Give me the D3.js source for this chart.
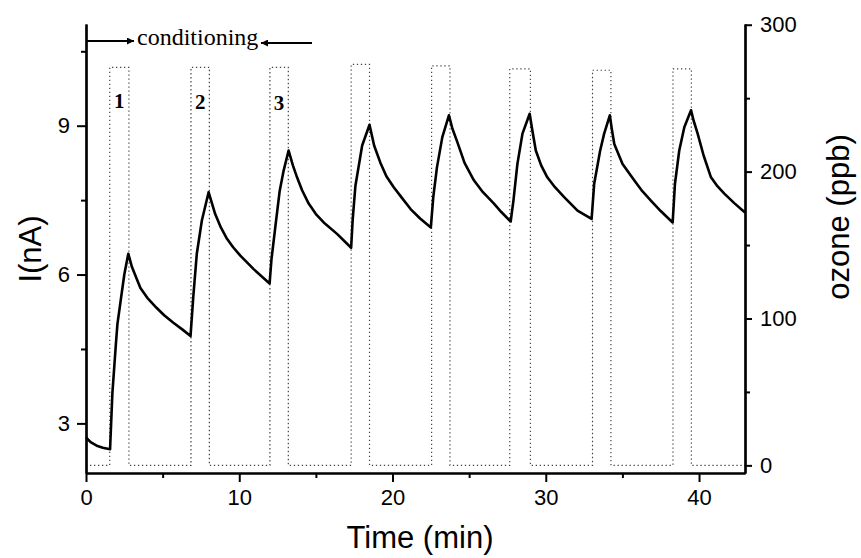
<!DOCTYPE html>
<html>
<head>
<meta charset="utf-8">
<script src="https://cdn.jsdelivr.net/npm/d3@7"></script>
<style>
  body { margin: 0; background: #fff; }
</style>
</head>
<body>
<div id="chart"></div>
<script>
// Current trace (time in min, current in nA)
const timeMin = [
  0, 0.3, 0.7, 1.1, 1.57, 1.72, 1.95, 2.05, 2.26, 2.5, 2.76,
  3.0, 3.3, 3.55, 4.0, 4.6, 5.1, 5.7, 6.3, 6.82,
  7.0, 7.23, 7.56, 8.0,
  8.43, 8.8, 9.2, 9.6, 10.07, 10.94, 11.98,
  12.1, 12.35, 12.64, 12.9, 13.22,
  13.5, 13.77, 14.1, 14.53, 15.0, 15.51, 16.38, 17.3,
  17.4, 17.58, 18.02, 18.5,
  18.8, 19.2, 19.6, 20.08, 20.6, 21.18, 21.8, 22.5,
  22.66, 22.9, 23.25, 23.68,
  23.9, 24.23, 24.7, 25.31, 25.9, 26.62, 27.1, 27.71,
  27.89, 28.15, 28.48, 28.95,
  29.1, 29.35, 29.7, 30.1, 30.6, 31.2, 32.07, 32.99,
  33.16, 33.55, 33.81, 34.18,
  34.3, 34.47, 35.01, 35.77, 36.3, 36.86, 37.5, 38.28,
  38.43, 38.71, 39.04, 39.48,
  39.65, 39.91, 40.3, 40.78, 41.2, 41.65, 42.3, 43.0
];
const currentNA = [
  2.72, 2.62, 2.55, 2.51, 2.48, 3.6, 4.6, 5.0, 5.47, 6.0, 6.42,
  6.15, 5.92, 5.73, 5.53, 5.33, 5.18, 5.03, 4.89, 4.76,
  5.55, 6.42, 7.09, 7.66,
  7.22, 6.95, 6.72, 6.55, 6.38, 6.11, 5.82,
  6.3, 6.95, 7.69, 8.1, 8.5,
  8.2, 7.96, 7.7, 7.43, 7.22, 7.05, 6.82, 6.54,
  7.1, 7.79, 8.6, 9.02,
  8.6, 8.26, 7.98, 7.76, 7.55, 7.32, 7.13, 6.95,
  7.56, 8.16, 8.77, 9.21,
  8.95, 8.67, 8.25, 7.9, 7.66, 7.43, 7.26, 7.07,
  7.49, 8.23, 8.84, 9.24,
  8.95, 8.5, 8.2, 7.96, 7.76, 7.56, 7.29, 7.12,
  7.83, 8.5, 8.84, 9.21,
  8.95, 8.63, 8.23, 7.9, 7.68, 7.49, 7.28, 7.05,
  7.83, 8.5, 8.97, 9.31,
  9.1, 8.84, 8.4, 7.96, 7.78, 7.63, 7.44, 7.25
];

// Ozone pulses (min, ppb)
const pulseStart = [1.55, 6.85, 12.0, 17.3, 22.55, 27.65, 33.05, 38.3];
const pulseEnd   = [2.8, 8.05, 13.2, 18.5, 23.75, 29.0, 34.25, 39.5];
const pulseLevel = [271, 271, 271, 273, 272, 270, 269, 270];

const pulseLabels = ["1", "2", "3"];

const xTicks = [0, 10, 20, 30, 40];
const xMinorTicks = [5, 15, 25, 35];
const yLeftTicks = [3, 6, 9];
const yLeftMinorTicks = [4.5, 7.5, 10.5];
const yRightTicks = [0, 100, 200, 300];
const yRightMinorTicks = [50, 150, 250];

const width = 861;
const height = 558;
const sans = '"Liberation Sans", Arial, sans-serif';
const serif = '"Liberation Serif", "Times New Roman", serif';

const svg = d3.select('#chart')
  .append('svg')
    .attr('width', width)
    .attr('height', height);

svg.append('rect')
    .attr('width', width)
    .attr('height', height)
    .attr('fill', '#fff');

const x = d3.scaleLinear().domain([0, 43]).range([86, 745]);
const yLeft = d3.scaleLinear().domain([2, 11.05]).range([473, 24]);
const yRight = d3.scaleLinear().domain([-5.2, 300.5]).range([473, 24]);

// ozone dotted step trace, built from the pulse arrays
const ozonePts = [[0, 0]];
pulseStart.forEach((s, i) => {
  ozonePts.push([s, 0], [s, pulseLevel[i]], [pulseEnd[i], pulseLevel[i]], [pulseEnd[i], 0]);
});
ozonePts.push([43, 0]);

svg.append('path')
    .datum(ozonePts)
    .attr('fill', 'none')
    .attr('stroke', '#444')
    .attr('stroke-width', 1.2)
    .attr('stroke-dasharray', '1.3,2.7')
    .attr('d', d3.line().x(d => x(d[0])).y(d => yRight(d[1])));

// current trace
const currentPts = timeMin.map((t, i) => [t, currentNA[i]]);
svg.append('path')
    .datum(currentPts)
    .attr('fill', 'none')
    .attr('stroke', '#000')
    .attr('stroke-width', 2.6)
    .attr('stroke-linejoin', 'round')
    .attr('d', d3.line().x(d => x(d[0])).y(d => yLeft(d[1])));

// axes
function styleAxis(g) {
  g.selectAll('path.domain').attr('stroke-width', 2.2).attr('stroke', '#000');
  g.selectAll('.tick line').attr('stroke-width', 2).attr('stroke', '#000');
  g.selectAll('.tick text')
    .attr('font-size', 22)
    .attr('font-family', sans)
    .attr('fill', '#000');
}

svg.append('g')
    .attr('transform', `translate(0,473)`)
    .call(d3.axisBottom(x).tickValues(xTicks).tickSize(9).tickSizeOuter(0).tickPadding(7))
    .call(styleAxis);
svg.append('g')
    .attr('transform', `translate(0,473)`)
    .call(d3.axisBottom(x).tickValues(xMinorTicks).tickSize(5).tickSizeOuter(0).tickFormat(''))
    .call(styleAxis);

svg.append('g')
    .attr('transform', `translate(86,0)`)
    .call(d3.axisLeft(yLeft).tickValues(yLeftTicks).tickSize(9).tickSizeOuter(0).tickPadding(7))
    .call(styleAxis);
svg.append('g')
    .attr('transform', `translate(86,0)`)
    .call(d3.axisLeft(yLeft).tickValues(yLeftMinorTicks).tickSize(5).tickSizeOuter(0).tickFormat(''))
    .call(styleAxis);

svg.append('g')
    .attr('transform', `translate(745,0)`)
    .call(d3.axisRight(yRight).tickValues(yRightTicks).tickSize(7).tickSizeOuter(0).tickPadding(8))
    .call(styleAxis);
svg.append('g')
    .attr('transform', `translate(745,0)`)
    .call(d3.axisRight(yRight).tickValues(yRightMinorTicks).tickSize(5).tickSizeOuter(0).tickFormat(''))
    .call(styleAxis);

// axis titles
svg.append('text')
    .attr('x', 420)
    .attr('y', 548)
    .attr('text-anchor', 'middle')
    .attr('font-family', sans)
    .attr('font-size', 31)
    .text('Time (min)');

svg.append('text')
    .attr('transform', 'translate(41,249) rotate(-90)')
    .attr('text-anchor', 'middle')
    .attr('font-family', sans)
    .attr('font-size', 31)
    .text('I(nA)');

svg.append('text')
    .attr('transform', 'translate(849,217) rotate(-90)')
    .attr('text-anchor', 'middle')
    .attr('font-family', sans)
    .attr('font-size', 31)
    .text('ozone (ppb)');

// conditioning annotation
const defs = svg.append('defs');
defs.append('marker')
    .attr('id', 'arrowhead')
    .attr('viewBox', '0 0 10 10')
    .attr('refX', 10)
    .attr('refY', 5)
    .attr('markerWidth', 12)
    .attr('markerHeight', 7)
    .attr('markerUnits', 'userSpaceOnUse')
    .attr('orient', 'auto')
  .append('path')
    .attr('d', 'M0,0L10,5L0,10Z')
    .attr('fill', '#000');

svg.append('line')
    .attr('x1', x(0)).attr('y1', 41)
    .attr('x2', 134).attr('y2', 41)
    .attr('stroke', '#000').attr('stroke-width', 2)
    .attr('marker-end', 'url(#arrowhead)');

svg.append('line')
    .attr('x1', 312).attr('y1', 43)
    .attr('x2', 261).attr('y2', 43)
    .attr('stroke', '#000').attr('stroke-width', 2)
    .attr('marker-end', 'url(#arrowhead)');

svg.append('text')
    .attr('x', 137)
    .attr('y', 45)
    .attr('font-family', serif)
    .attr('font-size', 24)
    .text('conditioning');

// pulse numbers
svg.selectAll('.pulse-label')
  .data(pulseLabels)
  .join('text')
    .attr('class', 'pulse-label')
    .attr('x', (d, i) => x((pulseStart[i] + pulseEnd[i]) / 2))
    .attr('y', (d, i) => 108 + i)
    .attr('text-anchor', 'middle')
    .attr('font-family', serif)
    .attr('font-weight', 'bold')
    .attr('font-size', 21)
    .text(d => d);
</script>
</body>
</html>
